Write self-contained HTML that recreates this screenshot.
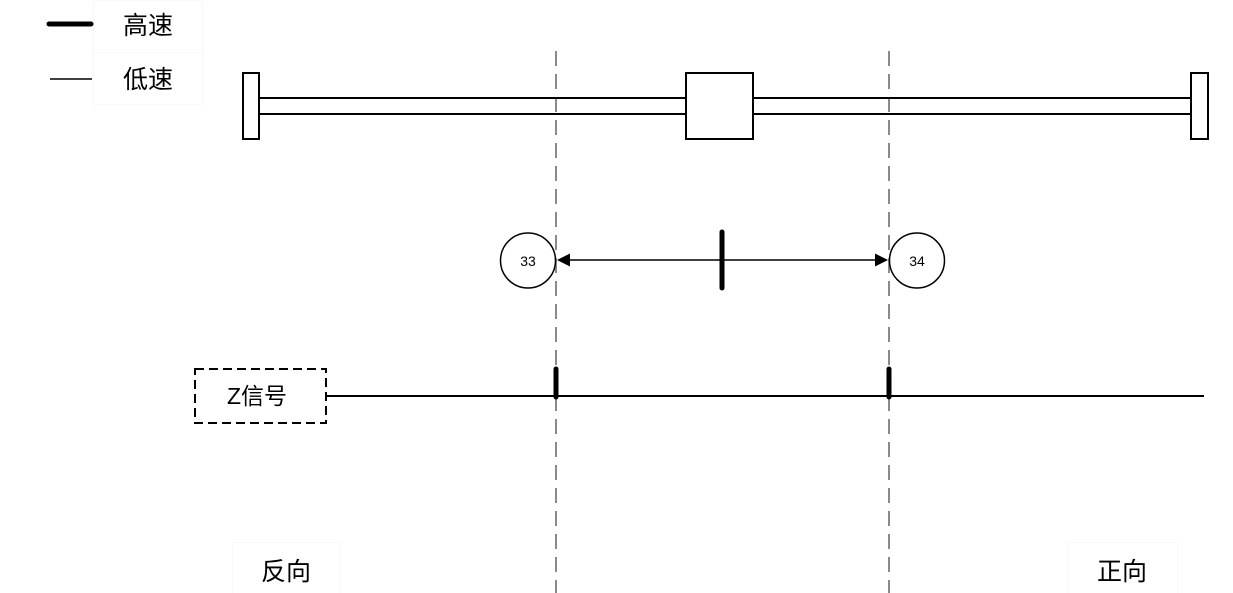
<!DOCTYPE html>
<html>
<head>
<meta charset="utf-8">
<style>
  html, body { margin: 0; padding: 0; background: #ffffff; }
  body { width: 1233px; height: 593px; overflow: hidden; }
  svg { display: block; }
  text { font-family: "Liberation Sans", "Noto Sans CJK SC", sans-serif; fill: #000; }
</style>
</head>
<body>
<svg width="1233" height="593" viewBox="0 0 1233 593" xmlns="http://www.w3.org/2000/svg">
  <!-- faint label boxes -->
  <rect x="93.5" y="0.5" width="109" height="52" fill="none" stroke="#f8f8f8" stroke-width="1"/>
  <rect x="93.5" y="52.5" width="109" height="52" fill="none" stroke="#f8f8f8" stroke-width="1"/>
  <rect x="232.5" y="542.5" width="108" height="60" fill="none" stroke="#f8f8f8" stroke-width="1"/>
  <rect x="1068.5" y="542.5" width="109" height="60" fill="none" stroke="#f8f8f8" stroke-width="1"/>

  <!-- legend -->
  <line x1="49" y1="24" x2="91" y2="24" stroke="#000" stroke-width="5" stroke-linecap="round"/>
  <line x1="50" y1="79" x2="92" y2="79" stroke="#000" stroke-width="1.5"/>
  <text x="148" y="26" font-size="25" text-anchor="middle" dominant-baseline="central">高速</text>
  <text x="148" y="80" font-size="25" text-anchor="middle" dominant-baseline="central">低速</text>

  <!-- vertical dashed guide lines -->
  <line x1="556" y1="51" x2="556" y2="593" stroke="#8a8a8a" stroke-width="2" stroke-dasharray="15 8"/>
  <line x1="889" y1="51" x2="889" y2="593" stroke="#8a8a8a" stroke-width="2" stroke-dasharray="15 8"/>

  <!-- rail -->
  <line x1="259" y1="98" x2="1191" y2="98" stroke="#000" stroke-width="2"/>
  <line x1="259" y1="114" x2="1191" y2="114" stroke="#000" stroke-width="2"/>
  <rect x="243" y="73" width="16" height="66" fill="#fff" stroke="#000" stroke-width="2"/>
  <rect x="1191" y="73" width="17" height="66" fill="#fff" stroke="#000" stroke-width="2"/>
  <rect x="686" y="73" width="67" height="66" fill="#fff" stroke="#000" stroke-width="2"/>

  <!-- arrow row -->
  <line x1="568" y1="260" x2="877" y2="260" stroke="#000" stroke-width="1.5"/>
  <polygon points="557,260 570,253.5 570,266.5" fill="#000"/>
  <polygon points="888,260 875,253.5 875,266.5" fill="#000"/>
  <line x1="722" y1="232" x2="722" y2="288" stroke="#000" stroke-width="5" stroke-linecap="round"/>
  <circle cx="528" cy="260.5" r="27.5" fill="#fff" stroke="#000" stroke-width="1.5"/>
  <circle cx="917" cy="260.5" r="27.5" fill="#fff" stroke="#000" stroke-width="1.5"/>
  <text x="528" y="261" font-size="14" text-anchor="middle" dominant-baseline="central">33</text>
  <text x="917" y="261" font-size="14" text-anchor="middle" dominant-baseline="central">34</text>

  <!-- Z signal row -->
  <line x1="326" y1="396" x2="1204" y2="396" stroke="#000" stroke-width="2"/>
  <line x1="556" y1="369" x2="556" y2="397" stroke="#000" stroke-width="5" stroke-linecap="round"/>
  <line x1="889" y1="369" x2="889" y2="397" stroke="#000" stroke-width="5" stroke-linecap="round"/>
  <rect x="195" y="369" width="131" height="54" fill="#fff" stroke="#000" stroke-width="2" stroke-dasharray="9 5"/>
  <text x="257" y="396" font-size="23" text-anchor="middle" dominant-baseline="central">Z信号</text>

  <!-- direction labels -->
  <text x="286" y="572" font-size="25" text-anchor="middle" dominant-baseline="central">反向</text>
  <text x="1122" y="572" font-size="25" text-anchor="middle" dominant-baseline="central">正向</text>
</svg>
</body>
</html>
